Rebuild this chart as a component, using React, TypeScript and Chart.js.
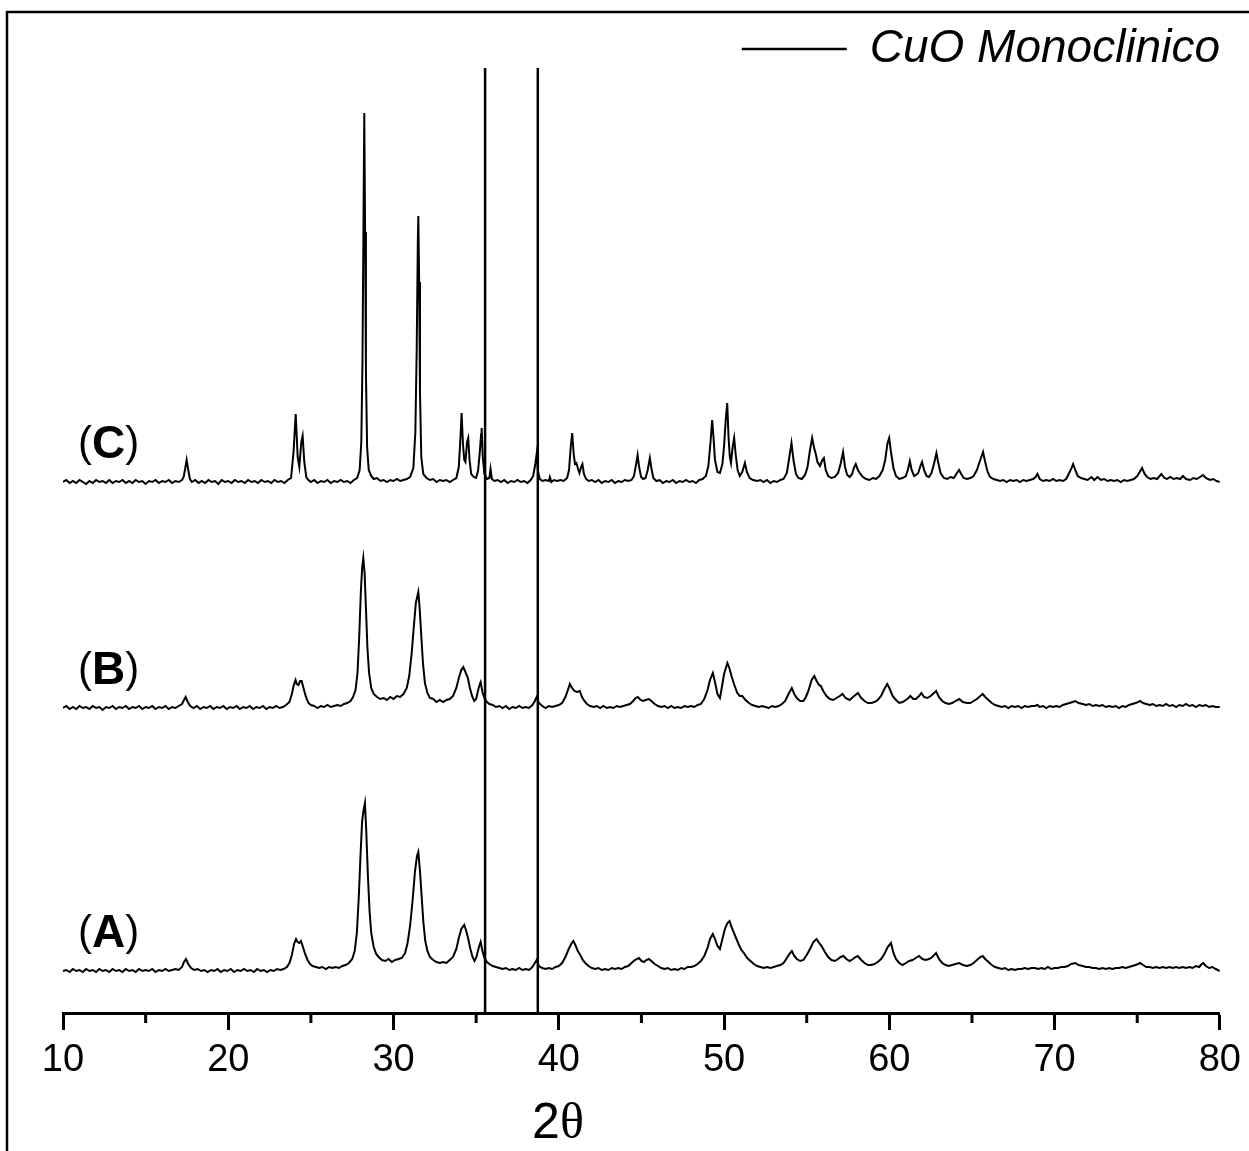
import React, { useEffect, useRef } from "react";
import { Chart, registerables } from "chart.js";

Chart.register(...registerables);

// ---------- data ----------
const X_MIN = 10;
const X_MAX = 80;
const MAJOR_STEP = 10;
const MINOR_TICKS = [15, 25, 35, 45, 55, 65, 75];

const REF_LABEL = "CuO Monoclinico";
const REF_LINES = [35.54, 38.73];
const REF_TOP = 945;

// vertical offsets of the stacked patterns (intensity units)
const OFFSET_A = 42;
const OFFSET_B = 305;
const OFFSET_C = 531;

const TRACE_NAMES = ["A", "B", "C"];

// pattern (C)  [2theta, intensity above its own baseline]
const SERIES_C: [number, number][] = [
  [10.0, 0], [10.2, 2], [10.4, -1], [10.6, 1], [10.8, -1], [11.0, 2], [11.2, 0], [11.4, -2], [11.6, 1], [11.8, -1],
  [12.0, 2], [12.2, 0], [12.4, 1], [12.6, -1], [12.8, 2], [13.0, -1], [13.2, 1], [13.4, 0], [13.6, 2], [13.8, -1],
  [14.0, 1], [14.2, -1], [14.4, 2], [14.6, 0], [14.8, 1], [15.0, -2], [15.2, 1], [15.4, 0], [15.6, 2], [15.8, -1],
  [16.0, 1], [16.2, 0], [16.4, 2], [16.6, -1], [16.8, 1], [17.0, 0], [17.2, 2], [17.3, 5], [17.38, 12], [17.48, 22],
  [17.58, 12], [17.68, 3], [17.8, 0], [18.0, 2], [18.2, -1], [18.4, 1], [18.6, -1], [18.8, 2], [19.0, 0], [19.2, 1],
  [19.4, -2], [19.6, 2], [19.8, 0], [20.0, 1], [20.2, -1], [20.4, 2], [20.6, 0], [20.8, 1], [21.0, -1], [21.2, 2],
  [21.4, 0], [21.6, 1], [21.8, -1], [22.0, 2], [22.2, 0], [22.4, 1], [22.6, -1], [22.8, 2], [23.0, 0], [23.2, 1],
  [23.4, -1], [23.6, 2], [23.8, 4], [23.95, 30], [24.08, 68], [24.2, 25], [24.3, 15], [24.42, 40], [24.5, 46], [24.6, 20],
  [24.72, 5], [24.85, 2], [25.0, 0], [25.2, 2], [25.4, -1], [25.6, 1], [25.8, 0], [26.0, 2], [26.2, -1], [26.4, 1],
  [26.6, 0], [26.8, 2], [27.0, 0], [27.2, 1], [27.4, -1], [27.6, 2], [27.8, 4], [27.95, 12], [28.05, 40], [28.12, 120],
  [28.2, 300], [28.23, 369], [28.28, 250], [28.33, 110], [28.4, 35], [28.5, 12], [28.65, 6], [28.8, 3], [29.0, 4], [29.2, 1],
  [29.4, 2], [29.6, 0], [29.8, 2], [30.0, 1], [30.2, 3], [30.4, 1], [30.6, 2], [30.8, 3], [31.0, 5], [31.2, 14],
  [31.32, 50], [31.4, 130], [31.47, 240], [31.5, 266], [31.55, 200], [31.6, 90], [31.68, 25], [31.8, 8], [32.0, 4], [32.2, 2],
  [32.4, 3], [32.6, 0], [32.8, 2], [33.0, 1], [33.2, 2], [33.4, 0], [33.6, 2], [33.8, 4], [33.95, 15], [34.05, 45],
  [34.12, 69], [34.2, 38], [34.28, 22], [34.35, 20], [34.45, 40], [34.52, 44], [34.6, 22], [34.7, 8], [34.85, 5], [35.0, 4],
  [35.12, 12], [35.22, 30], [35.3, 48], [35.33, 54], [35.4, 25], [35.5, 8], [35.65, 3], [35.8, 4], [35.87, 13], [35.95, 3],
  [36.1, 1], [36.3, 2], [36.5, 0], [36.7, 2], [36.9, -1], [37.1, 1], [37.3, 0], [37.5, 2], [37.7, 0], [37.9, 1],
  [38.1, -1], [38.3, 2], [38.45, 6], [38.58, 18], [38.66, 28], [38.75, 10], [38.85, 3], [39.0, 1], [39.2, 2], [39.4, 1],
  [39.46, 5], [39.55, 0], [39.7, 2], [39.9, 1], [40.1, 2], [40.3, 1], [40.5, 4], [40.62, 12], [40.72, 35], [40.81, 49],
  [40.9, 28], [40.98, 18], [41.07, 19], [41.15, 14], [41.25, 9], [41.35, 15], [41.43, 18], [41.52, 8], [41.65, 3], [41.8, 1],
  [42.0, 2], [42.2, 0], [42.4, 2], [42.6, -1], [42.8, 1], [43.0, 0], [43.2, 2], [43.4, -1], [43.6, 1], [43.8, 0],
  [44.0, 2], [44.2, 1], [44.4, 2], [44.55, 6], [44.68, 18], [44.77, 27], [44.86, 15], [44.98, 5], [45.1, 3], [45.25, 4],
  [45.38, 12], [45.51, 24], [45.6, 14], [45.72, 4], [45.9, 1], [46.1, 2], [46.3, -1], [46.5, 1], [46.7, 0], [46.9, 2],
  [47.1, -1], [47.3, 1], [47.5, 0], [47.7, 2], [47.9, 0], [48.1, 1], [48.3, -1], [48.5, 2], [48.7, 3], [48.9, 6],
  [49.05, 16], [49.18, 40], [49.28, 62], [49.36, 45], [49.45, 22], [49.6, 10], [49.75, 9], [49.9, 18], [50.0, 36], [50.1, 62],
  [50.19, 79], [50.27, 45], [50.35, 25], [50.42, 19], [50.52, 35], [50.61, 44], [50.7, 28], [50.82, 12], [50.95, 6], [51.1, 10],
  [51.26, 19], [51.38, 10], [51.55, 4], [51.75, 2], [52.0, 1], [52.2, 2], [52.4, 0], [52.6, 2], [52.8, -1], [53.0, 1],
  [53.2, 0], [53.4, 2], [53.6, 3], [53.8, 9], [53.95, 25], [54.08, 39], [54.2, 22], [54.35, 8], [54.5, 4], [54.7, 3],
  [54.9, 7], [55.05, 15], [55.2, 32], [55.33, 44], [55.45, 34], [55.55, 28], [55.65, 20], [55.8, 16], [55.95, 22], [56.04, 24],
  [56.15, 12], [56.3, 6], [56.5, 4], [56.7, 5], [56.9, 9], [57.05, 18], [57.2, 30], [57.32, 15], [57.45, 7], [57.6, 5],
  [57.75, 8], [57.85, 14], [57.97, 18], [58.1, 12], [58.25, 8], [58.4, 5], [58.6, 3], [58.8, 2], [59.0, 4], [59.2, 3],
  [59.4, 6], [59.6, 12], [59.75, 22], [59.88, 38], [59.99, 44], [60.1, 30], [60.25, 14], [60.4, 6], [60.6, 3], [60.8, 4],
  [61.0, 6], [61.12, 12], [61.24, 21], [61.35, 12], [61.5, 6], [61.62, 7], [61.75, 9], [61.88, 16], [61.98, 20], [62.1, 12],
  [62.25, 6], [62.4, 5], [62.55, 9], [62.7, 18], [62.85, 29], [62.95, 20], [63.1, 9], [63.3, 4], [63.5, 3], [63.7, 5],
  [63.9, 4], [64.05, 8], [64.22, 12], [64.35, 8], [64.5, 4], [64.7, 3], [64.9, 4], [65.1, 6], [65.3, 12], [65.5, 22],
  [65.67, 30], [65.8, 20], [65.95, 10], [66.1, 5], [66.3, 3], [66.5, 2], [66.7, 1], [66.9, 2], [67.1, 0], [67.3, 2],
  [67.5, 1], [67.7, 2], [67.9, 0], [68.1, 2], [68.3, 1], [68.5, 2], [68.7, 3], [68.85, 5], [68.96, 8], [69.1, 3],
  [69.3, 1], [69.5, 2], [69.7, 1], [69.9, 3], [70.1, 1], [70.3, 2], [70.5, 1], [70.7, 3], [70.85, 8], [71.0, 13],
  [71.12, 18], [71.25, 12], [71.4, 6], [71.6, 4], [71.8, 3], [72.0, 2], [72.23, 5], [72.4, 2], [72.6, 5], [72.8, 2],
  [73.0, 3], [73.2, 1], [73.4, 2], [73.6, 1], [73.8, 2], [74.0, 0], [74.2, 2], [74.4, 1], [74.6, 2], [74.8, 3],
  [75.0, 6], [75.15, 10], [75.29, 14], [75.45, 8], [75.6, 5], [75.8, 3], [76.0, 4], [76.2, 3], [76.46, 8], [76.65, 4],
  [76.8, 3], [77.0, 5], [77.2, 3], [77.4, 4], [77.6, 3], [77.77, 6], [77.95, 3], [78.2, 2], [78.4, 4], [78.6, 3],
  [78.8, 5], [78.98, 7], [79.15, 4], [79.4, 2], [79.6, 3], [79.8, 1], [80.0, 0],
];

// pattern (B)
const SERIES_B: [number, number][] = [
  [10.0, 0], [10.2, 2], [10.4, -1], [10.6, 1], [10.8, -1], [11.0, 2], [11.2, 0], [11.4, 1], [11.6, -1], [11.8, 2],
  [12.0, 0], [12.2, 1], [12.4, -2], [12.6, 1], [12.8, 0], [13.0, 2], [13.2, -1], [13.4, 1], [13.6, 0], [13.8, 2],
  [14.0, -1], [14.2, 1], [14.4, 0], [14.6, 2], [14.8, -1], [15.0, 1], [15.2, 0], [15.4, 2], [15.6, -1], [15.8, 1],
  [16.0, 0], [16.2, 2], [16.4, -1], [16.6, 1], [16.8, 0], [17.0, 2], [17.2, 4], [17.32, 8], [17.42, 11], [17.55, 6],
  [17.7, 2], [17.9, 0], [18.1, 2], [18.3, -1], [18.5, 1], [18.7, 0], [18.9, 2], [19.1, -1], [19.3, 1], [19.5, 0],
  [19.7, 2], [19.9, -1], [20.1, 1], [20.3, 0], [20.5, 2], [20.7, -1], [20.9, 1], [21.1, 0], [21.3, 2], [21.5, -1],
  [21.7, 1], [21.9, 0], [22.1, 2], [22.3, -1], [22.5, 1], [22.7, 0], [22.9, 2], [23.1, 0], [23.3, 1], [23.5, 3],
  [23.7, 6], [23.85, 14], [23.95, 22], [24.07, 28], [24.15, 24], [24.25, 23], [24.35, 27], [24.44, 27], [24.55, 20], [24.7, 11],
  [24.85, 5], [25.0, 3], [25.2, 2], [25.4, 0], [25.6, 2], [25.8, 1], [26.0, 3], [26.2, 1], [26.4, 2], [26.6, 3],
  [26.8, 2], [27.0, 4], [27.2, 5], [27.4, 7], [27.55, 11], [27.7, 18], [27.82, 35], [27.92, 70], [28.02, 115], [28.1, 140],
  [28.17, 150], [28.25, 135], [28.33, 100], [28.42, 60], [28.52, 35], [28.65, 20], [28.8, 14], [29.0, 11], [29.2, 9], [29.4, 10],
  [29.6, 8], [29.8, 11], [30.0, 9], [30.2, 12], [30.4, 11], [30.6, 14], [30.8, 20], [30.95, 32], [31.1, 55], [31.22, 80],
  [31.35, 105], [31.5, 116], [31.58, 100], [31.68, 72], [31.78, 45], [31.9, 25], [32.05, 15], [32.2, 10], [32.4, 9], [32.6, 6],
  [32.8, 8], [33.0, 6], [33.2, 8], [33.4, 9], [33.6, 12], [33.8, 20], [33.95, 30], [34.1, 38], [34.22, 41], [34.35, 36],
  [34.5, 30], [34.62, 20], [34.75, 12], [34.88, 7], [35.0, 9], [35.12, 18], [35.22, 24], [35.27, 26], [35.38, 16], [35.5, 10],
  [35.65, 6], [35.8, 4], [36.0, 3], [36.2, 1], [36.4, 2], [36.6, 0], [36.8, 2], [37.0, -1], [37.2, 1], [37.4, 0],
  [37.6, 2], [37.8, 0], [38.0, 1], [38.2, 0], [38.4, 3], [38.55, 7], [38.66, 11], [38.8, 5], [39.0, 2], [39.2, 0],
  [39.4, 2], [39.6, 1], [39.8, 2], [40.0, 3], [40.2, 5], [40.4, 11], [40.55, 18], [40.67, 24], [40.8, 20], [40.95, 17],
  [41.1, 16], [41.27, 17], [41.4, 11], [41.55, 7], [41.7, 4], [41.9, 2], [42.1, 1], [42.3, 2], [42.5, 0], [42.7, 2],
  [42.9, 0], [43.1, 1], [43.3, 0], [43.5, 2], [43.7, 1], [43.9, 2], [44.1, 3], [44.3, 4], [44.5, 7], [44.65, 10],
  [44.78, 11], [44.95, 8], [45.1, 7], [45.25, 8], [45.45, 9], [45.6, 7], [45.8, 4], [46.0, 2], [46.2, 1], [46.4, 2],
  [46.6, 0], [46.8, 2], [47.0, 0], [47.2, 1], [47.4, 0], [47.6, 2], [47.8, 1], [48.0, 2], [48.2, 1], [48.4, 3],
  [48.6, 4], [48.8, 9], [49.0, 18], [49.15, 28], [49.32, 35], [49.45, 26], [49.6, 14], [49.75, 10], [49.88, 22], [50.0, 34],
  [50.2, 45], [50.32, 40], [50.45, 32], [50.6, 24], [50.8, 15], [50.95, 12], [51.1, 12], [51.3, 8], [51.5, 5], [51.7, 3],
  [51.9, 2], [52.1, 1], [52.3, 2], [52.5, 1], [52.7, 0], [52.9, 2], [53.1, 1], [53.3, 2], [53.5, 4], [53.7, 7],
  [53.9, 14], [54.1, 20], [54.25, 14], [54.4, 10], [54.6, 7], [54.8, 7], [54.95, 11], [55.1, 17], [55.3, 28], [55.46, 32],
  [55.6, 27], [55.75, 23], [55.86, 22], [56.0, 17], [56.2, 12], [56.4, 9], [56.6, 8], [56.8, 10], [57.0, 12], [57.17, 14],
  [57.35, 10], [57.6, 8], [57.8, 11], [57.95, 13], [58.1, 15], [58.3, 10], [58.5, 7], [58.7, 5], [58.9, 5], [59.1, 6],
  [59.3, 8], [59.5, 12], [59.7, 19], [59.87, 24], [60.0, 20], [60.2, 12], [60.4, 8], [60.6, 5], [60.8, 6], [61.0, 8],
  [61.15, 10], [61.27, 12], [61.45, 9], [61.6, 9], [61.8, 12], [61.94, 15], [62.1, 11], [62.3, 10], [62.5, 12], [62.7, 15],
  [62.83, 17], [63.0, 11], [63.2, 7], [63.4, 5], [63.6, 4], [63.8, 5], [64.0, 7], [64.23, 9], [64.45, 6], [64.7, 5],
  [64.9, 5], [65.1, 7], [65.3, 9], [65.5, 12], [65.65, 14], [65.8, 11], [66.0, 8], [66.2, 5], [66.4, 3], [66.6, 2],
  [66.8, 1], [67.0, 2], [67.2, 0], [67.4, 2], [67.6, 1], [67.8, 2], [68.0, 0], [68.2, 2], [68.4, 1], [68.6, 2],
  [68.8, 2], [68.96, 3], [69.1, 1], [69.3, 2], [69.5, 0], [69.7, 2], [69.9, 1], [70.1, 2], [70.3, 1], [70.5, 3],
  [70.7, 4], [70.9, 5], [71.1, 6], [71.25, 7], [71.45, 5], [71.7, 4], [71.9, 3], [72.1, 4], [72.3, 2], [72.5, 3],
  [72.7, 2], [72.9, 3], [73.1, 1], [73.3, 2], [73.5, 1], [73.7, 2], [73.9, 0], [74.1, 2], [74.3, 1], [74.5, 3],
  [74.7, 4], [74.9, 5], [75.05, 6], [75.18, 7], [75.35, 5], [75.55, 4], [75.75, 3], [75.95, 4], [76.15, 2], [76.35, 3],
  [76.55, 2], [76.75, 4], [76.95, 2], [77.15, 3], [77.35, 1], [77.55, 3], [77.75, 2], [77.95, 4], [78.15, 2], [78.35, 3],
  [78.55, 1], [78.75, 3], [78.95, 2], [79.15, 3], [79.35, 1], [79.55, 2], [79.75, 1], [80.0, 1],
];

// pattern (A)
const SERIES_A: [number, number][] = [
  [10.0, 0], [10.2, 1], [10.4, -1], [10.6, 2], [10.8, 0], [11.0, 1], [11.2, -1], [11.4, 2], [11.6, 0], [11.8, 1],
  [12.0, -1], [12.2, 2], [12.4, 0], [12.6, 1], [12.8, -1], [13.0, 2], [13.2, 0], [13.4, 1], [13.6, -1], [13.8, 2],
  [14.0, 0], [14.2, 1], [14.4, -1], [14.6, 2], [14.8, 0], [15.0, 1], [15.2, 0], [15.4, 2], [15.6, -1], [15.8, 1],
  [16.0, 0], [16.2, 2], [16.4, 0], [16.6, 1], [16.8, 2], [17.0, 1], [17.2, 4], [17.32, 9], [17.44, 12], [17.58, 7],
  [17.75, 3], [17.95, 1], [18.15, 2], [18.35, 0], [18.55, 1], [18.75, -1], [18.95, 1], [19.15, 0], [19.35, 2], [19.55, -1],
  [19.75, 1], [19.95, 0], [20.15, 2], [20.35, -1], [20.55, 1], [20.75, 0], [20.95, 2], [21.15, 0], [21.35, 1], [21.55, -1],
  [21.75, 2], [21.95, 0], [22.15, 1], [22.35, -1], [22.55, 1], [22.75, 0], [22.95, 2], [23.15, 1], [23.35, 2], [23.55, 4],
  [23.7, 8], [23.85, 16], [23.98, 27], [24.1, 32], [24.2, 29], [24.3, 28], [24.4, 30], [24.52, 24], [24.65, 17], [24.8, 11],
  [24.95, 7], [25.1, 5], [25.3, 4], [25.5, 3], [25.7, 4], [25.9, 2], [26.1, 4], [26.3, 3], [26.5, 4], [26.7, 3],
  [26.9, 5], [27.1, 6], [27.3, 8], [27.5, 12], [27.65, 20], [27.78, 38], [27.9, 75], [28.0, 115], [28.1, 150], [28.2, 162],
  [28.27, 168], [28.35, 140], [28.45, 95], [28.55, 60], [28.65, 38], [28.8, 24], [28.95, 17], [29.1, 14], [29.3, 11], [29.5, 10],
  [29.7, 12], [29.9, 9], [30.1, 11], [30.3, 12], [30.5, 13], [30.7, 18], [30.85, 28], [31.0, 45], [31.15, 70], [31.3, 100],
  [31.42, 115], [31.5, 119], [31.6, 100], [31.7, 75], [31.8, 50], [31.92, 30], [32.05, 20], [32.2, 14], [32.4, 11], [32.6, 9],
  [32.8, 8], [33.0, 9], [33.2, 8], [33.4, 11], [33.6, 14], [33.8, 22], [33.95, 33], [34.1, 42], [34.28, 46], [34.4, 40],
  [34.52, 32], [34.65, 22], [34.78, 14], [34.9, 10], [35.02, 14], [35.15, 23], [35.27, 29], [35.38, 20], [35.5, 13], [35.65, 9],
  [35.8, 7], [36.0, 5], [36.2, 4], [36.4, 3], [36.6, 2], [36.8, 3], [37.0, 1], [37.2, 2], [37.4, 1], [37.6, 3],
  [37.8, 1], [38.0, 2], [38.2, 1], [38.4, 4], [38.55, 8], [38.66, 11], [38.8, 5], [39.0, 3], [39.2, 2], [39.4, 3],
  [39.6, 2], [39.8, 4], [40.0, 5], [40.2, 8], [40.4, 14], [40.6, 22], [40.75, 27], [40.88, 30], [41.0, 26], [41.15, 20],
  [41.3, 16], [41.45, 11], [41.6, 8], [41.8, 5], [42.0, 3], [42.2, 2], [42.4, 3], [42.6, 1], [42.8, 2], [43.0, 1],
  [43.2, 3], [43.4, 2], [43.6, 3], [43.8, 2], [44.0, 4], [44.2, 5], [44.4, 8], [44.6, 11], [44.85, 13], [45.0, 10],
  [45.15, 9], [45.3, 11], [45.45, 12], [45.6, 10], [45.8, 7], [46.0, 5], [46.2, 3], [46.4, 2], [46.6, 3], [46.8, 1],
  [47.0, 2], [47.2, 1], [47.4, 3], [47.6, 2], [47.8, 4], [48.0, 4], [48.2, 5], [48.4, 7], [48.6, 10], [48.8, 15],
  [49.0, 23], [49.15, 32], [49.32, 37], [49.45, 32], [49.6, 25], [49.75, 22], [49.9, 32], [50.05, 42], [50.2, 48], [50.33, 50],
  [50.45, 44], [50.6, 38], [50.75, 32], [50.9, 26], [51.05, 21], [51.2, 18], [51.4, 13], [51.6, 10], [51.8, 7], [52.0, 5],
  [52.2, 4], [52.4, 3], [52.6, 4], [52.8, 3], [53.0, 4], [53.2, 5], [53.4, 6], [53.6, 8], [53.8, 13], [53.95, 17],
  [54.1, 20], [54.25, 15], [54.4, 12], [54.6, 10], [54.8, 11], [55.0, 16], [55.2, 22], [55.4, 29], [55.6, 32], [55.75, 28],
  [55.9, 25], [56.1, 19], [56.3, 14], [56.5, 11], [56.7, 10], [56.9, 12], [57.05, 14], [57.22, 15], [57.4, 12], [57.6, 10],
  [57.8, 12], [57.95, 14], [58.09, 15], [58.3, 11], [58.5, 8], [58.7, 6], [58.9, 6], [59.1, 7], [59.3, 9], [59.5, 12],
  [59.7, 17], [59.9, 24], [60.1, 28], [60.25, 18], [60.4, 12], [60.6, 8], [60.8, 6], [61.0, 8], [61.2, 10], [61.4, 11],
  [61.6, 13], [61.8, 15], [62.0, 12], [62.2, 11], [62.4, 12], [62.6, 14], [62.83, 18], [63.0, 12], [63.2, 8], [63.4, 6],
  [63.6, 5], [63.8, 6], [64.0, 7], [64.23, 8], [64.45, 6], [64.7, 5], [64.9, 6], [65.1, 8], [65.3, 11], [65.5, 14],
  [65.65, 15], [65.8, 12], [66.0, 9], [66.2, 6], [66.4, 4], [66.6, 3], [66.8, 2], [67.0, 3], [67.2, 1], [67.4, 2],
  [67.6, 1], [67.8, 2], [68.0, 2], [68.2, 3], [68.4, 2], [68.6, 3], [68.8, 3], [69.0, 2], [69.2, 3], [69.4, 2],
  [69.6, 4], [69.8, 2], [70.0, 3], [70.2, 3], [70.4, 4], [70.6, 4], [70.8, 5], [71.0, 7], [71.25, 8], [71.45, 6],
  [71.7, 5], [71.9, 4], [72.1, 4], [72.3, 3], [72.5, 3], [72.7, 2], [72.9, 3], [73.1, 2], [73.3, 3], [73.5, 2],
  [73.7, 3], [73.9, 3], [74.1, 4], [74.3, 3], [74.5, 4], [74.7, 5], [74.9, 6], [75.05, 7], [75.18, 8], [75.35, 6],
  [75.55, 4], [75.75, 4], [75.95, 3], [76.15, 4], [76.35, 3], [76.55, 4], [76.75, 3], [76.95, 4], [77.15, 3], [77.35, 4],
  [77.55, 3], [77.75, 4], [77.95, 3], [78.15, 4], [78.35, 3], [78.55, 5], [78.75, 4], [78.9, 7], [79.0, 8], [79.15, 5],
  [79.35, 3], [79.55, 4], [79.75, 2], [80.0, 0],
];

// ---------- styling / layout ----------
const W = 1249;
const H = 1151;
const PAD_LEFT = 63;
const PAD_RIGHT = 29;
const PAD_TOP = 26;
const X_AXIS_HEIGHT = 138;
const LEGEND_HEIGHT = 56; // fontSize + 10 (labels padding 0)
const Y_MAX = H - X_AXIS_HEIGHT - PAD_TOP - LEGEND_HEIGHT; // 1 unit = 1 px
const SANS = '"Liberation Sans", Arial, Helvetica, sans-serif';
const SERIF = '"Liberation Serif", "Times New Roman", serif';
const LABEL_RISE = 38;

const shift = (arr: [number, number][], off: number) => arr.map(([x, y]) => ({ x, y: y + off }));

const refData: { x: number; y: number | null }[] = [];
REF_LINES.forEach((v, i) => {
  if (i > 0) refData.push({ x: (REF_LINES[i - 1] + v) / 2, y: null });
  refData.push({ x: v, y: 0 }, { x: v, y: REF_TOP });
});

const annotations = {
  id: "xrdAnnotations",
  afterDraw(chart: any) {
    const { ctx } = chart;
    const xs = chart.scales.x;
    const ys = chart.scales.y;
    ctx.save();
    ctx.strokeStyle = "#000";
    ctx.fillStyle = "#000";
    // outer frame
    ctx.lineWidth = 2.5;
    ctx.beginPath();
    ctx.moveTo(7, chart.height);
    ctx.lineTo(7, 12);
    ctx.lineTo(chart.width, 12);
    ctx.stroke();
    // minor ticks
    ctx.lineWidth = 3;
    for (const v of MINOR_TICKS) {
      const px = xs.getPixelForValue(v);
      ctx.beginPath();
      ctx.moveTo(px, xs.top);
      ctx.lineTo(px, xs.top + 10);
      ctx.stroke();
    }
    // pattern labels
    const offs = [OFFSET_A, OFFSET_B, OFFSET_C];
    ctx.textBaseline = "middle";
    ctx.textAlign = "left";
    TRACE_NAMES.forEach((name, i) => {
      let x = 78;
      const y = ys.getPixelForValue(offs[i] + LABEL_RISE);
      ctx.font = `42px ${SANS}`;
      ctx.fillText("(", x, y);
      x += ctx.measureText("(").width;
      ctx.font = `bold 46px ${SANS}`;
      ctx.fillText(name, x, y + 1);
      x += ctx.measureText(name).width;
      ctx.font = `42px ${SANS}`;
      ctx.fillText(")", x, y);
    });
    // x-axis title
    ctx.textBaseline = "alphabetic";
    ctx.font = `50px ${SANS}`;
    const w2 = ctx.measureText("2").width;
    ctx.font = `50px ${SERIF}`;
    const wt = ctx.measureText("\u03b8").width;
    const cx = 558;
    const by = chart.height - 13;
    ctx.font = `50px ${SANS}`;
    ctx.fillText("2", cx - (w2 + wt) / 2, by);
    ctx.font = `50px ${SERIF}`;
    ctx.fillText("\u03b8", cx - (w2 + wt) / 2 + w2, by);
    ctx.restore();
  },
};

export default function App() {
  const ref = useRef<HTMLCanvasElement>(null);
  useEffect(() => {
    if (!ref.current) return;
    Chart.defaults.font.family = SANS;
    const trace = (label: string, arr: [number, number][], off: number) => ({
      label,
      data: shift(arr, off),
      borderColor: "#000",
      borderWidth: 2,
      pointRadius: 0,
      tension: 0,
    });
    const chart = new Chart(ref.current, {
      type: "line",
      data: {
        datasets: [
          {
            label: REF_LABEL,
            data: refData as any,
            borderColor: "#000",
            backgroundColor: "#000",
            borderWidth: 2.5,
            pointRadius: 0,
            spanGaps: false,
            clip: false as any,
          },
          trace("C", SERIES_C, OFFSET_C),
          trace("B", SERIES_B, OFFSET_B),
          trace("A", SERIES_A, OFFSET_A),
        ] as any,
      },
      options: {
        animation: false,
        responsive: false,
        devicePixelRatio: 1,
        layout: { padding: { left: PAD_LEFT, right: PAD_RIGHT, top: PAD_TOP, bottom: 0 } },
        plugins: {
          tooltip: { enabled: false },
          legend: {
            display: true,
            position: "top",
            align: "end",
            labels: {
              filter: (item: any) => item.text === REF_LABEL,
              boxWidth: 105,
              boxHeight: 0,
              padding: 0,
              color: "#000",
              font: { family: SANS, size: 46, style: "italic" },
            },
          },
        },
        scales: {
          x: {
            type: "linear",
            min: X_MIN,
            max: X_MAX,
            afterFit: (s: any) => {
              s.height = X_AXIS_HEIGHT;
            },
            border: { display: true, color: "#000", width: 3 },
            grid: {
              display: true,
              drawOnChartArea: false,
              drawTicks: true,
              tickLength: 17,
              tickWidth: 3,
              tickColor: "#000",
              color: "#000",
            },
            ticks: {
              stepSize: MAJOR_STEP,
              autoSkip: false,
              maxRotation: 0,
              padding: 8,
              color: "#000",
              font: { family: SANS, size: 38 },
              callback: (v: any) => String(v),
            },
          },
          y: {
            display: false,
            min: 0,
            max: Y_MAX,
          },
        },
      },
      plugins: [annotations],
    });
    return () => chart.destroy();
  }, []);
  return (
    <div style={{ position: "absolute", left: 0, top: 0, width: W, height: H, background: "#fff" }}>
      <canvas ref={ref} width={W} height={H} style={{ display: "block" }} />
    </div>
  );
}
